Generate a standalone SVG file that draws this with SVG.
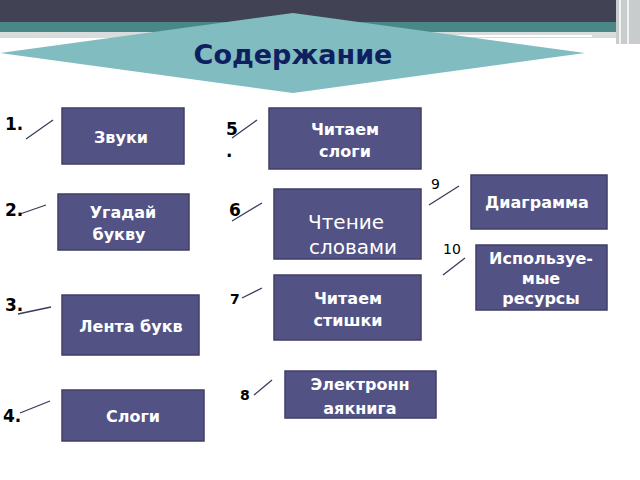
<svg xmlns="http://www.w3.org/2000/svg" width="640" height="480" viewBox="0 0 640 480">
<style>
.b{fill:#525285;stroke:#3f3f66;stroke-width:1.5}
.t{font-family:"DejaVu Sans",sans-serif;font-weight:bold;fill:#fff;text-anchor:middle;font-size:16px}
.n{font-family:"DejaVu Sans",sans-serif;font-weight:bold;fill:#000;font-size:17px}
.s{font-family:"DejaVu Sans",sans-serif;fill:#000;font-size:14px}
.l{stroke:#3a3a5a;stroke-width:1.3}
</style>
<rect width="640" height="480" fill="#fff"/>
<rect width="640" height="22" fill="#424255"/>
<rect y="22" width="640" height="10" fill="#4a8888"/>
<rect y="32" width="640" height="6" fill="#d8dcdc"/>
<rect x="616" y="0" width="24" height="44" fill="#c8cccc"/>
<line x1="620" y1="0" x2="620" y2="44" stroke="#fff" stroke-width="1.5"/>
<line x1="628" y1="0" x2="628" y2="44" stroke="#fff" stroke-width="1.5"/>
<line x1="440" y1="36" x2="592" y2="36" stroke="#fff" stroke-width="2"/>
<line x1="515" y1="42" x2="615" y2="42" stroke="#fff" stroke-width="2"/>
<polygon points="0,53 293,13 585,53 293,93" fill="#80bcc0"/>
<text x="293" y="64" font-family="DejaVu Sans,sans-serif" font-weight="bold" font-size="27" fill="#0f2060" text-anchor="middle">Содержание</text>
<g id="connectors">
<line class="l" x1="26" y1="139" x2="53" y2="120"/>
<line class="l" x1="20" y1="214" x2="46" y2="205"/>
<line class="l" x1="18" y1="314" x2="51" y2="307"/>
<line class="l" x1="20" y1="413" x2="50" y2="401"/>
<line class="l" x1="232" y1="138" x2="257" y2="120"/>
<line class="l" x1="232" y1="221" x2="262" y2="203"/>
<line class="l" x1="242" y1="298" x2="262" y2="288"/>
<line class="l" x1="254" y1="395" x2="272" y2="380"/>
<line class="l" x1="429" y1="205" x2="459" y2="186"/>
<line class="l" x1="443" y1="275" x2="465" y2="258"/>
</g>
<g id="labels">
<text class="n" x="5" y="130">1.</text>
<text class="n" x="5" y="216">2.</text>
<text class="n" x="5" y="311">3.</text>
<text class="n" x="3" y="422">4.</text>
<text class="n" x="226" y="135">5</text>
<text class="n" x="226" y="157">.</text>
<text class="n" x="229" y="216">6</text>
<text class="s" x="230" y="304" font-weight="bold">7</text>
<text class="s" x="240" y="400" font-weight="bold">8</text>
<text class="s" x="431" y="189">9</text>
<text class="s" x="443" y="254">10</text>
</g>
<g id="n1"><rect class="b" x="62" y="108" width="122" height="56"/><text class="t" x="121" y="143">Звуки</text></g>
<g id="n5"><rect class="b" x="269" y="108" width="152" height="61"/><text class="t" x="345" y="135">Читаем</text><text class="t" x="345" y="157">слоги</text></g>
<g id="n9"><rect class="b" x="471" y="175" width="136" height="54"/><text class="t" x="537" y="208">Диаграмма</text></g>
<g id="n2"><rect class="b" x="58" y="194" width="131" height="56"/><text class="t" x="123" y="218">Угадай</text><text class="t" x="119" y="240">букву</text></g>
<g id="n6"><rect class="b" x="274" y="189" width="147" height="70"/><text x="346" y="229" font-family="DejaVu Sans,sans-serif" font-size="20" fill="#fff" text-anchor="middle">Чтение</text><text x="353" y="254" font-family="DejaVu Sans,sans-serif" font-size="20" fill="#fff" text-anchor="middle">словами</text></g>
<g id="n10"><rect class="b" x="476" y="245" width="131" height="65"/><text class="t" x="541" y="264">Используе-</text><text class="t" x="541" y="284">мые</text><text class="t" x="541" y="304">ресурсы</text></g>
<g id="n7"><rect class="b" x="274" y="275" width="147" height="65"/><text class="t" x="348" y="304">Читаем</text><text class="t" x="348" y="326">стишки</text></g>
<g id="n3"><rect class="b" x="62" y="295" width="137" height="60"/><text class="t" x="131" y="332">Лента букв</text></g>
<g id="n8"><rect class="b" x="285" y="371" width="151" height="47"/><text class="t" x="360" y="390" font-size="19">Электронн</text><text class="t" x="360" y="414" font-size="19">аякнига</text></g>
<g id="n4"><rect class="b" x="62" y="390" width="142" height="51"/><text class="t" x="133" y="422">Слоги</text></g>
</svg>
